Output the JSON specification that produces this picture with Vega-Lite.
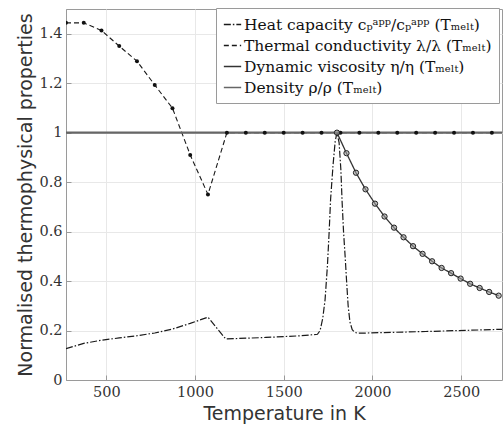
{
  "$schema": "https://vega.github.io/schema/vega-lite/v6.json",
  "width": 436,
  "height": 371,
  "autosize": {"type": "none"},
  "padding": {"left": 66, "top": 9, "right": 1, "bottom": 52},
  "background": "white",
  "config": {
    "view": {"stroke": "#9a9a9a", "strokeWidth": 1},
    "axis": {
      "grid": true,
      "gridColor": "#e8e8e8",
      "gridWidth": 1,
      "domainColor": "#9a9a9a",
      "tickColor": "#9a9a9a",
      "tickSize": -5,
      "labelFont": "DejaVu Serif",
      "labelFontSize": 14.5,
      "labelColor": "#333333",
      "titleFont": "DejaVu Sans",
      "titleFontSize": 19,
      "titleFontWeight": "normal",
      "titleColor": "#333333"
    },
    "legend": {
      "orient": "none",
      "legendX": 150,
      "legendY": -1,
      "strokeColor": "#9a9a9a",
      "fillColor": "white",
      "padding": 7,
      "symbolType": "stroke",
      "symbolSize": 300,
      "labelFont": "DejaVu Serif",
      "labelFontSize": 15.5,
      "labelColor": "#111111",
      "labelOffset": 2,
      "rowPadding": 3,
      "labelLimit": 400
    }
  },
  "datasets": {
    "hc": [
      {"T": 273, "v": 0.127}, {"T": 373, "v": 0.148}, {"T": 473, "v": 0.161}, {"T": 573, "v": 0.170},
      {"T": 673, "v": 0.179}, {"T": 773, "v": 0.190}, {"T": 873, "v": 0.206}, {"T": 973, "v": 0.229},
      {"T": 1073, "v": 0.254}, {"T": 1173, "v": 0.166}, {"T": 1400, "v": 0.172}, {"T": 1600, "v": 0.179},
      {"T": 1690, "v": 0.185}, {"T": 1705, "v": 0.200}, {"T": 1720, "v": 0.250}, {"T": 1733, "v": 0.325},
      {"T": 1746, "v": 0.46}, {"T": 1756, "v": 0.60}, {"T": 1764, "v": 0.73}, {"T": 1778, "v": 0.87},
      {"T": 1790, "v": 0.965}, {"T": 1800, "v": 1.0}, {"T": 1812, "v": 0.96}, {"T": 1822, "v": 0.85},
      {"T": 1829, "v": 0.72}, {"T": 1837, "v": 0.60}, {"T": 1846, "v": 0.50}, {"T": 1855, "v": 0.39},
      {"T": 1863, "v": 0.30}, {"T": 1873, "v": 0.235}, {"T": 1886, "v": 0.203}, {"T": 1900, "v": 0.193},
      {"T": 1915, "v": 0.189}, {"T": 2300, "v": 0.196}, {"T": 2730, "v": 0.205}
    ],
    "tc": [
      {"T": 273, "v": 1.444}, {"T": 373, "v": 1.444}, {"T": 473, "v": 1.413}, {"T": 573, "v": 1.350},
      {"T": 673, "v": 1.289}, {"T": 773, "v": 1.193}, {"T": 873, "v": 1.099}, {"T": 973, "v": 0.910},
      {"T": 1073, "v": 0.750}, {"T": 1179.7, "v": 1.0}, {"T": 1286.3, "v": 1.0}, {"T": 1393, "v": 1.0},
      {"T": 1499.7, "v": 1.0}, {"T": 1606.3, "v": 1.0}, {"T": 1713, "v": 1.0}, {"T": 1819.7, "v": 1.0},
      {"T": 1926.3, "v": 1.0}, {"T": 2033, "v": 1.0}, {"T": 2139.7, "v": 1.0}, {"T": 2246.3, "v": 1.0},
      {"T": 2353, "v": 1.0}, {"T": 2459.7, "v": 1.0}, {"T": 2566.3, "v": 1.0}, {"T": 2673, "v": 1.0}
    ],
    "dv": [
      {"T": 1800, "v": 1.0}, {"T": 1853.6, "v": 0.917}, {"T": 1907.2, "v": 0.838}, {"T": 1960.8, "v": 0.771},
      {"T": 2014.4, "v": 0.713}, {"T": 2068, "v": 0.661}, {"T": 2121.6, "v": 0.616}, {"T": 2175.2, "v": 0.577},
      {"T": 2228.8, "v": 0.541}, {"T": 2282.4, "v": 0.510}, {"T": 2336, "v": 0.480}, {"T": 2389.6, "v": 0.453},
      {"T": 2443.2, "v": 0.432}, {"T": 2496.8, "v": 0.410}, {"T": 2550.4, "v": 0.389}, {"T": 2604, "v": 0.372},
      {"T": 2657.6, "v": 0.356}, {"T": 2711.2, "v": 0.341}
    ],
    "rho": [
      {"T": 273, "v": 1.0}, {"T": 2730, "v": 1.0}
    ]
  },
  "layer": [
    {
      "data": {"name": "hc"},
      "transform": [{"calculate": "'Heat capacity cₚᵃᵖᵖ/cₚᵃᵖᵖ (Tₘₑₗₜ)'", "as": "s"}],
      "mark": {"type": "line", "clip": true, "strokeWidth": 1.2},
      "encoding": {
        "x": {"field": "T", "type": "quantitative", "scale": {"domain": [273, 2730], "nice": false, "zero": false},
              "axis": {"values": [500, 1000, 1500, 2000, 2500], "format": "d", "title": "Temperature in K", "labelPadding": 10, "titlePadding": 6}},
        "y": {"field": "v", "type": "quantitative", "scale": {"domain": [0, 1.5], "nice": false},
              "axis": {"values": [0, 0.2, 0.4, 0.6, 0.8, 1, 1.2, 1.4], "format": "~g", "title": "Normalised thermophysical properties", "labelPadding": 9, "titlePadding": 3}},
        "strokeDash": {"field": "s", "type": "nominal",
          "scale": {"domain": ["Heat capacity cₚᵃᵖᵖ/cₚᵃᵖᵖ (Tₘₑₗₜ)", "Thermal conductivity λ/λ (Tₘₑₗₜ)", "Dynamic viscosity η/η (Tₘₑₗₜ)", "Density ρ/ρ (Tₘₑₗₜ)"],
                    "range": [[7, 2, 1.5, 2], [5, 3], [1, 0], [1, 0]]},
          "legend": {"title": null}},
        "color": {"field": "s", "type": "nominal",
          "scale": {"domain": ["Heat capacity cₚᵃᵖᵖ/cₚᵃᵖᵖ (Tₘₑₗₜ)", "Thermal conductivity λ/λ (Tₘₑₗₜ)", "Dynamic viscosity η/η (Tₘₑₗₜ)", "Density ρ/ρ (Tₘₑₗₜ)"],
                    "range": ["#1a1a1a", "#1a1a1a", "#333333", "#666666"]},
          "legend": {"title": null}}
      }
    },
    {
      "data": {"name": "tc"},
      "transform": [{"calculate": "'Thermal conductivity λ/λ (Tₘₑₗₜ)'", "as": "s"}],
      "mark": {"type": "line", "clip": true, "strokeWidth": 1.1},
      "encoding": {
        "x": {"field": "T", "type": "quantitative"},
        "y": {"field": "v", "type": "quantitative"},
        "strokeDash": {"field": "s", "type": "nominal"},
        "color": {"field": "s", "type": "nominal"}
      }
    },
    {
      "data": {"name": "rho"},
      "transform": [{"calculate": "'Density ρ/ρ (Tₘₑₗₜ)'", "as": "s"}],
      "mark": {"type": "line", "clip": true, "strokeWidth": 2.2},
      "encoding": {
        "x": {"field": "T", "type": "quantitative"},
        "y": {"field": "v", "type": "quantitative"},
        "strokeDash": {"field": "s", "type": "nominal"},
        "color": {"field": "s", "type": "nominal"}
      }
    },
    {
      "data": {"name": "dv"},
      "transform": [{"calculate": "'Dynamic viscosity η/η (Tₘₑₗₜ)'", "as": "s"}],
      "mark": {"type": "line", "clip": true, "strokeWidth": 1.3},
      "encoding": {
        "x": {"field": "T", "type": "quantitative"},
        "y": {"field": "v", "type": "quantitative"},
        "strokeDash": {"field": "s", "type": "nominal"},
        "color": {"field": "s", "type": "nominal"}
      }
    },
    {
      "data": {"name": "tc"},
      "mark": {"type": "point", "filled": true, "color": "#111111", "size": 16, "opacity": 1, "clip": true},
      "encoding": {
        "x": {"field": "T", "type": "quantitative"},
        "y": {"field": "v", "type": "quantitative"}
      }
    },
    {
      "data": {"name": "dv"},
      "mark": {"type": "point", "filled": false, "stroke": "#222222", "strokeWidth": 1, "size": 28, "fill": "#9a9a9a", "fillOpacity": 0.6, "opacity": 1, "clip": true},
      "encoding": {
        "x": {"field": "T", "type": "quantitative"},
        "y": {"field": "v", "type": "quantitative"}
      }
    }
  ]
}
